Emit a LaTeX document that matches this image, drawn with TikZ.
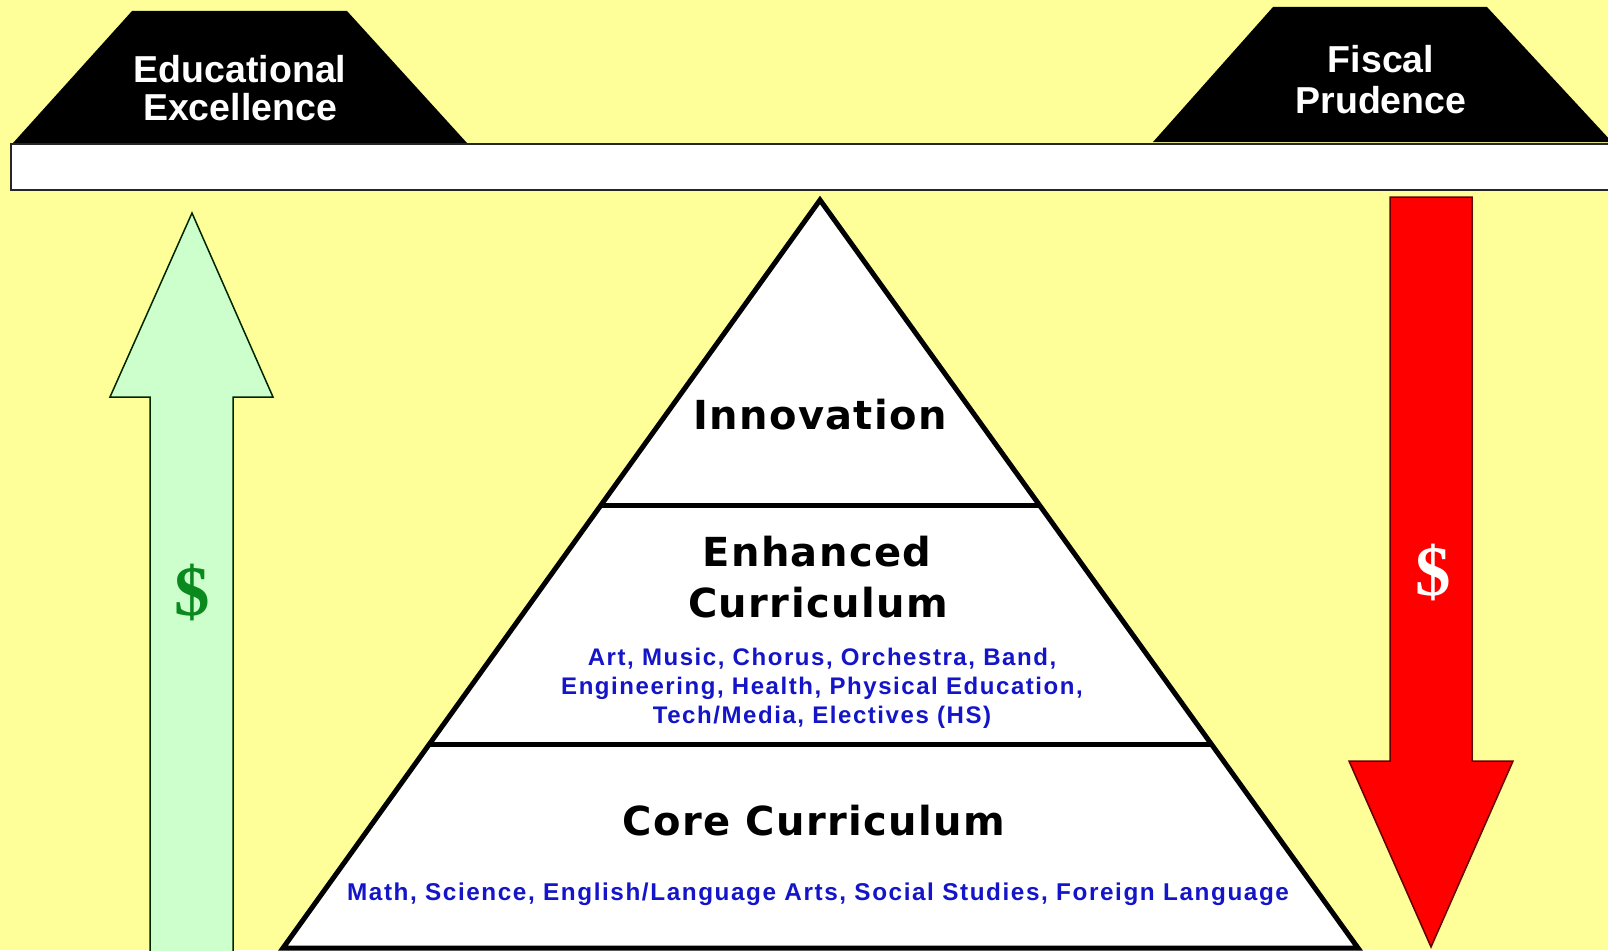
\documentclass[tikz,border=0pt]{standalone}
\usepackage{fontspec}
\setmainfont{Liberation Sans}
\newfontfamily\dvfont[LetterSpace=3.5]{DejaVu Sans}
\newfontfamily\lstfont[LetterSpace=6.5]{Liberation Sans}
\newfontfamily\tmfont{Liberation Serif}
\usetikzlibrary{calc}
\definecolor{bgyellow}{HTML}{FFFF99}
\definecolor{mint}{HTML}{CCFFCC}
\definecolor{dollargreen}{HTML}{0A8A1E}
\definecolor{listblue}{HTML}{1414C8}
\definecolor{arrowred}{HTML}{FF0000}
\begin{document}
\begin{tikzpicture}[x=1pt,y=-1pt,
  hdr/.style={text=white, anchor=base, inner sep=0pt, font=\bfseries\fontsize{37.5}{40}\selectfont},
  lvl/.style={text=black, anchor=base, inner sep=0pt, font=\dvfont\bfseries\fontsize{40}{42}\selectfont},
  lst/.style={text=listblue, anchor=base, inner sep=0pt, font=\lstfont\bfseries\fontsize{24}{26}\selectfont},
  lstwide/.style={lst, font=\lstfont\bfseries\fontsize{24.3}{26}\selectfont},
  dollar/.style={anchor=base, inner sep=0pt, font=\tmfont\bfseries\fontsize{71}{74}\selectfont},
  arrowshape/.style={line width=1.5pt, line join=miter},
  pyr/.style={line width=5pt, line join=miter}]
\fill[bgyellow] (0,0) rectangle (1608,950);
\useasboundingbox (0,0) rectangle (1608,950);

% top trapezoids
\fill[black] (13,143) -- (132,11) -- (347,11) -- (467,143) -- cycle;
\fill[black] (1153,142) -- (1273,7) -- (1487,7) -- (1612,142) -- cycle;
% beam
\draw[fill=white, line width=1.5pt, draw=black!85] (11,144) rectangle (1625,190);

% green up arrow
\draw[arrowshape, fill=mint, draw=black!85!green] (150,960) -- (150,397) -- (110,397) -- (192,213) -- (273,397) -- (233,397) -- (233,960) -- cycle;
% red down arrow
\draw[arrowshape, fill=arrowred, draw=black!60!red] (1390,197) -- (1472,197) -- (1472,761) -- (1513,761) -- (1431,947) -- (1349,761) -- (1390,761) -- cycle;

% pyramid
\coordinate (apex) at (820,200);
\coordinate (bl) at (283,948);
\coordinate (br) at (1358,948);
\draw[pyr, fill=white] (apex) -- (br) -- (bl) -- cycle;
\coordinate (d1l) at ($(apex)!0.408!(bl)$);
\coordinate (d1r) at ($(apex)!0.408!(br)$);
\coordinate (d2l) at ($(apex)!0.7273!(bl)$);
\coordinate (d2r) at ($(apex)!0.7273!(br)$);
\draw[pyr] (d1l) -- (d1r);
\draw[pyr] (d2l) -- (d2r);

% header texts
\node[hdr] (edu1) at (240,82) {Educational};
\node[hdr] (edu2) at (240,120) {Excellence};
\node[hdr] (fis1) at (1381,72) {Fiscal};
\node[hdr] (fis2) at (1381,113) {Prudence};

% pyramid texts
\node[lvl] (innov) at (820,429) {Innovation};
\node[lvl] (enh1) at (817,566) {Enhanced};
\node[lvl] (enh2) at (818,617) {Curriculum};
\node[lst] (enl1) at (822,665) {Art, Music, Chorus, Orchestra, Band,};
\node[lst] (enl2) at (822,694) {Engineering, Health, Physical Education,};
\node[lst] (enl3) at (822,723) {Tech/Media, Electives (HS)};
\node[lvl] (core) at (814,835) {Core Curriculum};
\node[lstwide] (corel) at (818,900) {Math, Science, English/Language Arts, Social Studies, Foreign Language};

% dollar signs
\node[dollar, text=dollargreen] (dg) at (192,615) {\$};
\node[dollar, text=white] (dr) at (1433,595) {\$};
\end{tikzpicture}
\end{document}
